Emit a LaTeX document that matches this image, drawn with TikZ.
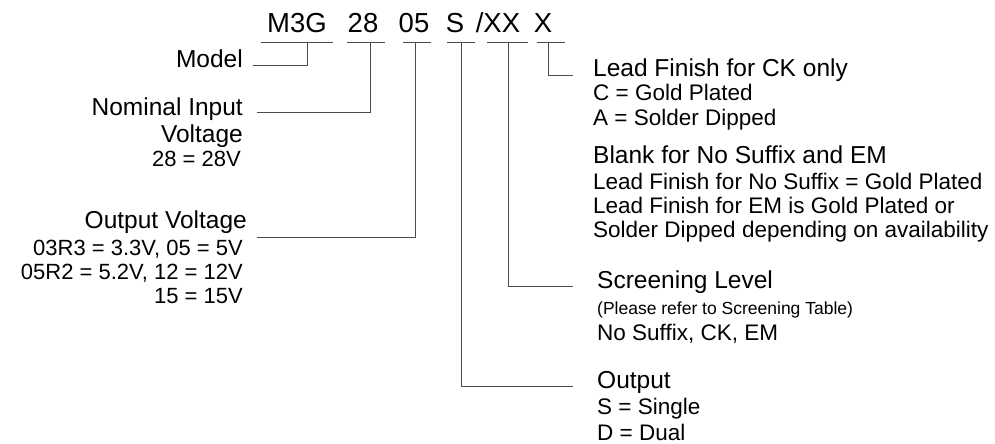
\documentclass[tikz,border=0pt]{standalone}
\usepackage{fontspec}
\setmainfont{Liberation Sans}
\newcommand\codesize{\fontsize{27.5}{32}\selectfont}
\newcommand\headsize{\fontsize{24.5}{29}\selectfont}
\newcommand\itemsize{\fontsize{22.5}{26}\selectfont}
\newcommand\valuesize{\fontsize{22}{26}\selectfont}
\newcommand\notesize{\fontsize{17.5}{21}\selectfont}
\tikzset{
  code/.style={font=\codesize, inner sep=0pt, anchor=base},
  head/.style={font=\headsize, inner sep=0pt},
  item/.style={font=\itemsize, inner sep=0pt},
  value/.style={font=\valuesize, inner sep=0pt, anchor=base east},
  note/.style={font=\notesize, inner sep=0pt},
  lead/.style={draw=black!70, line width=0.8pt},
}
\begin{document}
\begin{tikzpicture}[x=1pt,y=-1pt]
    \useasboundingbox (0,0) rectangle (995,444);
    % part number
    \node[code] (m3g) at (297,33) {M3G};
    \node[code] (vin) at (363,33) {28};
    \node[code] (vout) at (414,33) {05};
    \node[code] (outs) at (455,33) {S};
    \node[code] (scr) at (498,33) {/XX};
    \node[code] (fin) at (543,33) {X};
    \foreach \a/\b in {261/333, 347/385, 403/431, 447/475, 487/528, 537/565}
        \draw[lead] (\a,42) -- (\b,42);
    \coordinate (m3g tap) at (307,42);
    \coordinate (vin tap) at (370,42);
    \coordinate (vout tap) at (415,42);
    \coordinate (outs tap) at (461,42);
    \coordinate (scr tap) at (508,42);
    \coordinate (fin tap) at (548,42);

    % left side
    \node[head, anchor=base east] (model) at (243,67) {Model};
    \node[head, anchor=base east] (vin1) at (243,115) {Nominal Input};
    \node[head, anchor=base east] (vin2) at (243,142) {Voltage};
    \node[value] (vin3) at (241,166) {28 = 28V};
    \node[head, anchor=base east] (vout1) at (247,228) {Output Voltage};
    \node[value] (vout2) at (243,255) {03R3 = 3.3V, 05 = 5V};
    \node[value] (vout3) at (243,279) {05R2 = 5.2V, 12 = 12V};
    \node[value] (vout4) at (243,303) {15 = 15V};
    \coordinate (model end) at (253,65);
    \coordinate (vin end) at (257,112);
    \coordinate (vout end) at (257,237);

    % right side
    \node[head, anchor=base west] (fin1) at (593,76) {Lead Finish for CK only};
    \node[item, anchor=base west] (fin2) at (593,100) {C = Gold Plated};
    \node[item, anchor=base west] (fin3) at (593,125) {A = Solder Dipped};
    \node[head, anchor=base west] (blank1) at (593,163) {Blank for No Suffix and EM};
    \node[item, anchor=base west] (blank2) at (593,189) {Lead Finish for No Suffix = Gold Plated};
    \node[item, anchor=base west] (blank3) at (593,213) {Lead Finish for EM is Gold Plated or};
    \node[item, anchor=base west] (blank4) at (593,237) {Solder Dipped depending on availability};
    \node[head, anchor=base west] (scr1) at (597,288) {Screening Level};
    \node[note, anchor=base west] (scr2) at (597,314) {(Please refer to Screening Table)};
    \node[item, anchor=base west] (scr3) at (597,340) {No Suffix, CK, EM};
    \node[head, anchor=base west] (outs1) at (597,388) {Output};
    \node[item, anchor=base west] (outs2) at (597,414) {S = Single};
    \node[item, anchor=base west] (outs3) at (597,440) {D = Dual};
    \coordinate (fin end) at (573,75);
    \coordinate (scr end) at (573,286);
    \coordinate (outs end) at (573,386);

    % leaders
    \draw[lead] (m3g tap) |- (model end);
    \draw[lead] (vin tap) |- (vin end);
    \draw[lead] (vout tap) |- (vout end);
    \draw[lead] (fin tap) |- (fin end);
    \draw[lead] (scr tap) |- (scr end);
    \draw[lead] (outs tap) |- (outs end);
\end{tikzpicture}
\end{document}
